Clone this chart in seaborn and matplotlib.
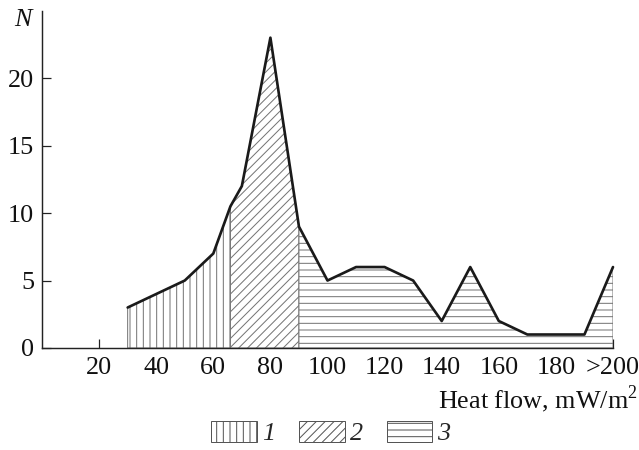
import matplotlib.pyplot as plt
import seaborn as sns
import numpy as np
import pandas as pd
from matplotlib.patches import Patch

# datos
heat_flow = [30, 40, 50, 60, 66, 70, 80, 90, 100, 110, 120, 130, 140, 150, 160, 170, 180, 190, 200]
count_n = [3, 4, 5, 7, 10.5, 12, 23, 9, 5, 6, 6, 5, 2, 6, 2, 1, 1, 1, 6]
group_edges = [30, 66, 90, 200]
group_labels = ["1", "2", "3"]
group_hatch = ["||", "///", "--"]
x_ticks = [20, 40, 60, 80, 100, 120, 140, 160, 180, 200]
x_ticklabels = ["20", "40", "60", "80", "100", "120", "140", "160", "180", ">200"]
y_ticks = [0, 5, 10, 15, 20]

df = pd.DataFrame({"heat_flow": heat_flow, "N": count_n})

sns.set_theme(style="ticks")
plt.rcParams["font.family"] = ["Liberation Serif", "DejaVu Serif"]
plt.rcParams["hatch.linewidth"] = 0.9
plt.rcParams["mathtext.fontset"] = "custom"
plt.rcParams["mathtext.rm"] = "Liberation Serif"

fs = 23.5
dpi = 80
fig = plt.figure(figsize=(639 / dpi, 450 / dpi), dpi=dpi)
ax = fig.add_axes([42 / 639, 1 - 348 / 450, 571 / 639, 337.3 / 450])

x = df["heat_flow"].to_numpy()
y = df["N"].to_numpy()
for i in range(3):
    mask = (x >= group_edges[i]) & (x <= group_edges[i + 1])
    ax.fill_between(x[mask], y[mask], 0, facecolor="white", edgecolor="#747474",
                    hatch=group_hatch[i], linewidth=0.9)

sns.lineplot(data=df, x="heat_flow", y="N", color="#1a1a1a", linewidth=2.4,
             ax=ax, clip_on=False)

ax.set_xlim(0, 200)
ax.set_ylim(0, 25)
ax.set_xticks(x_ticks)
ax.set_xticklabels(x_ticklabels)
ax.set_yticks(y_ticks)
ax.tick_params(direction="in", length=8, width=1.1, labelsize=fs, pad=7,
               color="#222222", labelcolor="#111111")
ax.tick_params(axis="x", pad=8)
ax.set_xlabel("")
ax.set_ylabel("")
sns.despine(ax=ax)
for s in ["left", "bottom"]:
    ax.spines[s].set_linewidth(1.3)
    ax.spines[s].set_color("#222222")

fig.text(23 / 639, 1 - 20 / 450, "N", fontsize=fs, style="italic",
         ha="center", va="center", color="#111111")
fig.text(638 / 639, 1 - 399 / 450, "Heat flow, mW/m$^2$", fontsize=fs,
         ha="right", va="center", color="#111111")

handles = [Patch(facecolor="white", edgecolor="#555555", hatch=h, linewidth=0.9)
           for h in group_hatch]
leg = fig.legend(handles, group_labels, loc="center", bbox_to_anchor=(0.518, 1 - 433 / 450),
                 ncol=3, frameon=False, fontsize=fs, handlelength=1.75, handleheight=0.85,
                 handletextpad=0.2, columnspacing=0.9, borderpad=0)
for t in leg.get_texts():
    t.set_style("italic")

fig.savefig("out.png", dpi=dpi)
